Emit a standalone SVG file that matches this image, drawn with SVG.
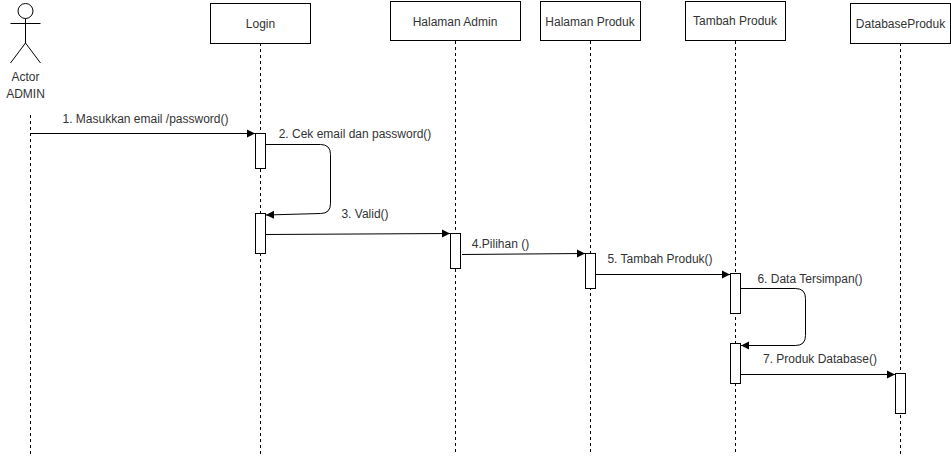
<svg xmlns="http://www.w3.org/2000/svg" width="951" height="456" viewBox="0 0 951 456">
<style>
text{font-family:"Liberation Sans",Arial,sans-serif;font-size:12px;fill:#333;text-anchor:middle}
.b{fill:#fff;stroke:#000;stroke-width:1}
.l{fill:none;stroke:#000;stroke-width:1;stroke-dasharray:3 3}
.c{fill:none;stroke:#000;stroke-width:1;marker-end:url(#a)}
.s{fill:none;stroke:#000;stroke-width:1}
</style>
<defs><marker id="a" markerUnits="userSpaceOnUse" markerWidth="9" markerHeight="10" refX="8" refY="4.500" orient="auto"><path d="M0 0.500L8 4.500L0 8.500Z" fill="#000"/></marker></defs>
<rect width="951" height="456" fill="#fff"/>
<g id="lifelines">
<path class="l" d="M30.500 115V455"/>
<path class="l" d="M260.500 43V455"/>
<path class="l" d="M455.500 41V455"/>
<path class="l" d="M590.500 41V455"/>
<path class="l" d="M735.500 41V455"/>
<path class="l" d="M900.500 43V455"/>
</g>
<g id="actor">
<circle class="s" cx="25.500" cy="11" r="7.500"/>
<path class="s" d="M25.500 18.500V43M10.500 23.500H40.500M10.500 63L25.500 43L40.500 63"/>
<text x="25.500" y="81">Actor</text>
<text x="25.500" y="98">ADMIN</text>
</g>
<g id="login"><rect class="b" x="210.500" y="3.500" width="100" height="40"/><text x="260.500" y="28">Login</text></g>
<g id="halaman-admin"><rect class="b" x="390.500" y="1.500" width="130" height="39"/><text x="455" y="26">Halaman Admin</text></g>
<g id="halaman-produk"><rect class="b" x="540.500" y="1.500" width="100" height="39"/><text x="590" y="26">Halaman Produk</text></g>
<g id="tambah-produk"><rect class="b" x="685.500" y="1.500" width="100" height="39"/><text x="735" y="25">Tambah Produk</text></g>
<g id="database-produk"><rect class="b" x="850.500" y="3.500" width="100" height="40"/><text x="900.500" y="28">DatabaseProduk</text></g>
<g id="activations">
<rect class="b" x="255.500" y="133.500" width="10" height="35"/>
<rect class="b" x="255.500" y="213.500" width="10" height="40"/>
<rect class="b" x="450.500" y="233.500" width="10" height="35"/>
<rect class="b" x="585.500" y="253.500" width="10" height="35"/>
<rect class="b" x="730.500" y="273.500" width="10" height="40"/>
<rect class="b" x="730.500" y="343.500" width="10" height="40"/>
<rect class="b" x="895.500" y="373.500" width="10" height="40"/>
</g>
<g id="connectors">
<path class="c" d="M30.500 133.500H255"/>
<path class="c" d="M265.500 144.500H320.500Q330.500 144.500 330.500 154.500V203.500Q330.500 213.500 320.500 213.500L266 215"/>
<path class="c" d="M265.500 234.500L450 233.500"/>
<path class="c" d="M462 254.500L585 253.500"/>
<path class="c" d="M595.500 274.500H730"/>
<path class="c" d="M740.500 288.500H795.500Q805.500 288.500 805.500 298.500V335.500Q805.500 345.500 795.500 345.500H741"/>
<path class="c" d="M740.500 374.500H895"/>
</g>
<g id="labels">
<text x="145.500" y="123">1. Masukkan email /password()</text>
<text x="355" y="137.500">2. Cek email dan password()</text>
<text x="365" y="218">3. Valid()</text>
<text x="500.500" y="248">4.Pilihan ()</text>
<text x="660" y="263">5. Tambah Produk()</text>
<text x="810" y="283">6. Data Tersimpan()</text>
<text x="820" y="363">7. Produk Database()</text>
</g>
</svg>
